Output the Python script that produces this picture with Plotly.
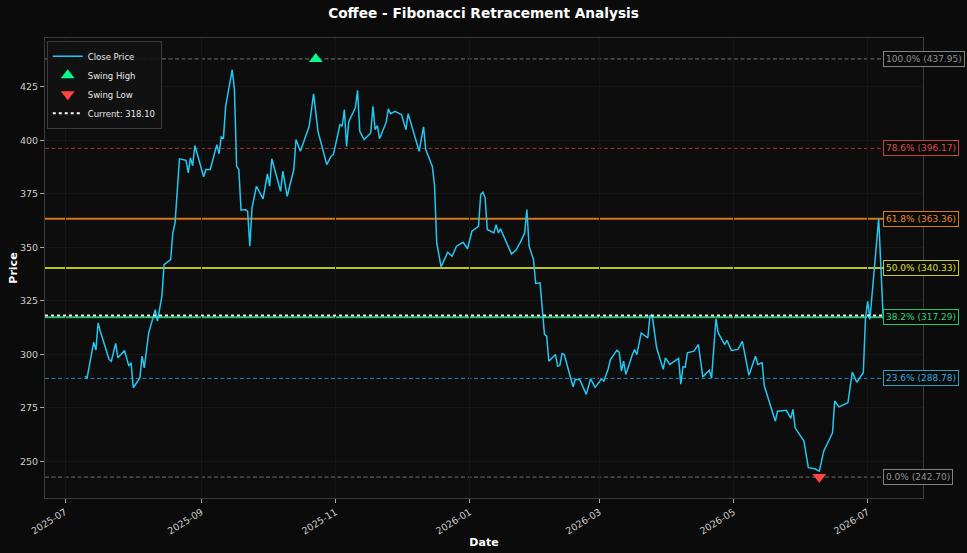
import plotly.graph_objects as go
import pandas as pd

# ---------------- data ----------------
dates = [
    "2025-07-10", "2025-07-11", "2025-07-14", "2025-07-15", "2025-07-16", "2025-07-17", "2025-07-21", "2025-07-22",
    "2025-07-24", "2025-07-25", "2025-07-28", "2025-07-30", "2025-07-31", "2025-08-01", "2025-08-04", "2025-08-05",
    "2025-08-06", "2025-08-08", "2025-08-11", "2025-08-12", "2025-08-14", "2025-08-15", "2025-08-18", "2025-08-19",
    "2025-08-20", "2025-08-22", "2025-08-25", "2025-08-26", "2025-08-27", "2025-08-28", "2025-08-29", "2025-09-02",
    "2025-09-03", "2025-09-05", "2025-09-08", "2025-09-09", "2025-09-10", "2025-09-11", "2025-09-12", "2025-09-15",
    "2025-09-16", "2025-09-17", "2025-09-18", "2025-09-19", "2025-09-21", "2025-09-22", "2025-09-23", "2025-09-24",
    "2025-09-26", "2025-09-29", "2025-10-01", "2025-10-02", "2025-10-03", "2025-10-07", "2025-10-08", "2025-10-10",
    "2025-10-13", "2025-10-14", "2025-10-16", "2025-10-20", "2025-10-22", "2025-10-24", "2025-10-28", "2025-10-30",
    "2025-10-31", "2025-11-03", "2025-11-04", "2025-11-05", "2025-11-06", "2025-11-07", "2025-11-10", "2025-11-11",
    "2025-11-12", "2025-11-14", "2025-11-17", "2025-11-18", "2025-11-19", "2025-11-20", "2025-11-21", "2025-11-24",
    "2025-11-25", "2025-11-26", "2025-11-28", "2025-12-01", "2025-12-03", "2025-12-04", "2025-12-09", "2025-12-11",
    "2025-12-12", "2025-12-15", "2025-12-16", "2025-12-17", "2025-12-19", "2025-12-22", "2025-12-24", "2025-12-26",
    "2025-12-29", "2025-12-31", "2026-01-02", "2026-01-05", "2026-01-06", "2026-01-07", "2026-01-08", "2026-01-09",
    "2026-01-12", "2026-01-13", "2026-01-14", "2026-01-15", "2026-01-20", "2026-01-22", "2026-01-24", "2026-01-26",
    "2026-01-27", "2026-01-28", "2026-01-30", "2026-01-31", "2026-02-02", "2026-02-03", "2026-02-04", "2026-02-05",
    "2026-02-06", "2026-02-09", "2026-02-10", "2026-02-11", "2026-02-12", "2026-02-13", "2026-02-17", "2026-02-18",
    "2026-02-20", "2026-02-23", "2026-02-25", "2026-02-27", "2026-03-02", "2026-03-03", "2026-03-05", "2026-03-06",
    "2026-03-09", "2026-03-10", "2026-03-11", "2026-03-12", "2026-03-13", "2026-03-16", "2026-03-17", "2026-03-18",
    "2026-03-20", "2026-03-23", "2026-03-24", "2026-03-25", "2026-03-27", "2026-03-30", "2026-03-31", "2026-04-02",
    "2026-04-06", "2026-04-07", "2026-04-08", "2026-04-09", "2026-04-10", "2026-04-13", "2026-04-15", "2026-04-17",
    "2026-04-20", "2026-04-21", "2026-04-23", "2026-04-24", "2026-04-27", "2026-04-28", "2026-04-30", "2026-05-03",
    "2026-05-05", "2026-05-08", "2026-05-11", "2026-05-12", "2026-05-14", "2026-05-15", "2026-05-18", "2026-05-20",
    "2026-05-21", "2026-05-25", "2026-05-27", "2026-05-28", "2026-05-29", "2026-06-02", "2026-06-04", "2026-06-07",
    "2026-06-09", "2026-06-11", "2026-06-15", "2026-06-16", "2026-06-18", "2026-06-22", "2026-06-24", "2026-06-26",
    "2026-06-29", "2026-06-30", "2026-07-01", "2026-07-02", "2026-07-06", "2026-07-08",
]
close = [
    289.8, 289.0, 305.7, 302.0, 314.7, 310.8, 297.6, 296.8,
    305.1, 298.4, 301.8, 294.5, 296.1, 284.4, 289.0, 299.2,
    293.7, 310.0, 320.9, 315.5, 327.1, 341.9, 344.3, 356.7,
    361.4, 391.3, 390.6, 384.7, 391.7, 388.1, 397.5, 382.9,
    386.3, 386.3, 397.9, 393.6, 401.5, 401.0, 415.8, 432.9,
    423.6, 387.8, 386.3, 367.3, 367.6, 366.8, 350.5, 368.4,
    378.5, 372.6, 384.3, 378.5, 391.3, 376.1, 385.5, 373.8,
    386.3, 400.3, 394.8, 406.5, 421.6, 404.1, 388.6, 392.5,
    393.3, 407.3, 406.5, 414.3, 397.1, 408.8, 415.1, 423.3,
    404.1, 400.3, 403.4, 415.8, 404.9, 406.8, 400.7, 408.3,
    414.6, 412.4, 413.5, 411.9, 404.9, 412.4, 394.8, 406.2,
    395.6, 387.8, 379.0, 352.0, 340.9, 347.7, 345.8, 350.5,
    352.3, 349.3, 357.5, 359.8, 374.6, 375.7, 373.1, 358.3,
    356.7, 360.6, 356.7, 358.6, 346.9, 348.6, 352.3, 356.7,
    367.6, 350.5, 344.3, 333.1, 333.4, 321.0, 309.3, 308.5,
    296.8, 299.9, 294.5, 294.8, 300.4, 299.9, 284.9, 288.3,
    288.3, 281.3, 288.6, 284.6, 288.6, 287.5, 293.3, 297.6,
    302.0, 301.0, 292.2, 296.8, 290.6, 299.9, 302.3, 299.9,
    310.0, 307.7, 318.1, 318.1, 303.1, 293.0, 298.4, 295.3,
    298.1, 286.1, 294.2, 294.0, 300.7, 301.5, 304.6, 289.5,
    292.6, 289.0, 316.6, 310.0, 304.6, 306.6, 301.8, 302.3,
    306.1, 290.2, 299.2, 295.3, 296.1, 285.2, 275.0, 268.8,
    273.5, 273.9, 270.1, 274.3, 265.7, 259.5, 247.1, 246.6,
    245.5, 254.8, 263.4, 278.2, 275.5, 277.4, 291.7, 287.0,
    291.4, 317.1, 324.8, 316.3, 363.4, 318.1,
]

swing_high_date = "2025-10-23"
swing_high = 437.948
swing_low_date = "2026-06-09"
swing_low = 242.703
current_price = 318.10

fib_ratios = [1.0, 0.786, 0.618, 0.5, 0.382, 0.236, 0.0]
fib_labels = ["100.0%", "78.6%", "61.8%", "50.0%", "38.2%", "23.6%", "0.0%"]
fib_colors = ["#8a8a8a", "#d0453a", "#e8831f", "#d6d620", "#2ecc71", "#2fa6d6", "#8a8a8a"]
fib_text_colors = ["#9a9a9a", "#e0524a", "#f09030", "#e6e632", "#3bd67c", "#3fb4e4", "#9a9a9a"]
fib_dash = ["4px,2.5px", "4px,2.5px", "solid", "solid", "solid", "4px,2.5px", "4px,2.5px"]
fib_width = [1, 1, 2, 2, 2, 1, 1]
fib_opacity = [0.8, 0.75, 0.9, 0.9, 0.9, 0.8, 0.8]

y_ticks = [250, 275, 300, 325, 350, 375, 400, 425]

# ---------------- derived ----------------
dt = pd.to_datetime(dates)
span = dt[-1] - dt[0]
x_range = [dt[0] - span * 0.05, dt[-1] + span * 0.05]
yr = swing_high - swing_low
y_range = [swing_low - 0.05 * yr, swing_high + 0.05 * yr]
levels = [swing_low + r * yr for r in fib_ratios]

FONT = "DejaVu Sans"
fig = go.Figure()

shapes = []
annotations = []
for lvl, lab, col, tcol, dsh, w, op in zip(levels, fib_labels, fib_colors, fib_text_colors,
                                          fib_dash, fib_width, fib_opacity):
    shapes.append(dict(type="line", xref="paper", x0=0, x1=1, yref="y", y0=lvl, y1=lvl,
                       line=dict(color=col, width=w, dash=dsh), opacity=op, layer="below"))
    annotations.append(dict(x=dt[-1], y=lvl, xref="x", yref="y", xanchor="left", yanchor="middle",
                            text=f"{lab} ({lvl:.2f})", showarrow=False,
                            font=dict(family=FONT, size=9, color=tcol),
                            bgcolor="#0a0a0a", bordercolor=col, borderwidth=1, borderpad=2,
                            opacity=0.95))

# current price line (dotted white)
shapes.append(dict(type="line", xref="paper", x0=0, x1=1, yref="y", y0=current_price, y1=current_price,
                   line=dict(color="#ffffff", width=2, dash="dot"), opacity=0.9, layer="above"))

fig.add_trace(go.Scatter(x=dt, y=close, mode="lines", name="Close Price",
                         line=dict(color="#22c8f2", width=1.5)))
fig.add_trace(go.Scatter(x=[pd.Timestamp(swing_high_date)], y=[swing_high], mode="markers", name="Swing High",
                         marker=dict(symbol="triangle-up", size=12, color="#00ff88")))
fig.add_trace(go.Scatter(x=[pd.Timestamp(swing_low_date)], y=[swing_low], mode="markers", name="Swing Low",
                         marker=dict(symbol="triangle-down", size=12, color="#ff4444")))
fig.add_trace(go.Scatter(x=[None], y=[None], mode="lines", name=f"Current: {current_price:.2f}",
                         line=dict(color="#ffffff", width=2, dash="dot")))

fig.update_layout(
    width=967, height=553,
    margin=dict(l=45, r=44, t=38, b=55, autoexpand=False),
    paper_bgcolor="#0b0b0b",
    plot_bgcolor="#0d0d0d",
    font=dict(family=FONT, color="#e0e0e0", size=10),
    title=dict(text="<b>Coffee - Fibonacci Retracement Analysis</b>", x=0.5, xanchor="center",
               y=1 - 13 / 553, yref="container", yanchor="middle",
               font=dict(family=FONT, size=13.7, color="#ffffff")),
    shapes=shapes,
    annotations=annotations,
    showlegend=True,
    legend=dict(x=0.002, y=0.994, xanchor="left", yanchor="top",
                bgcolor="rgba(18,18,18,0.9)", bordercolor="#3a3a3a", borderwidth=1,
                font=dict(family=FONT, size=8.5, color="#e8e8e8"),
                itemwidth=30, tracegroupgap=0),
    xaxis=dict(range=x_range, type="date", tick0="2025-07-01", dtick="M2", tickformat="%Y-%m",
               tickangle=-32, ticks="outside", ticklen=4, tickcolor="#aaaaaa",
               tickfont=dict(family=FONT, size=9.5, color="#cccccc"), automargin=False,
               showgrid=True, gridcolor="#161616", gridwidth=1, zeroline=False,
               showline=True, linecolor="#3a3a3a", linewidth=1, mirror=True,
               title=dict(text="<b>Date</b>", font=dict(family=FONT, size=11, color="#ffffff"), standoff=0)),
    yaxis=dict(range=y_range, tickvals=y_ticks, ticks="outside", ticklen=4, tickcolor="#aaaaaa",
               tickfont=dict(family=FONT, size=9.5, color="#cccccc"), automargin=False,
               showgrid=True, gridcolor="#161616", gridwidth=1, zeroline=False,
               showline=True, linecolor="#3a3a3a", linewidth=1, mirror=True,
               title=dict(text="<b>Price</b>", font=dict(family=FONT, size=11, color="#ffffff"), standoff=0)),
)

fig.write_html("out.html")
